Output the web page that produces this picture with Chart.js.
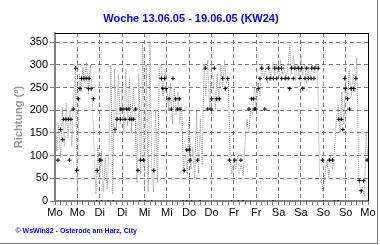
<!DOCTYPE html>
<html><head><meta charset="utf-8">
<script src="https://cdn.jsdelivr.net/npm/chart.js@4/dist/chart.umd.min.js"></script>
<style>html,body{margin:0;padding:0;background:#fff;overflow:hidden}canvas{display:block}</style>
</head><body>
<canvas id="c" width="380" height="245"></canvas>
<script>
const titleText = 'Woche 13.06.05 - 19.06.05 (KW24)';
const yAxisTitle = 'Richtung (°)';
const footerText = '© WsWin32 - Osterode am Harz, City';
const xTickLabels = ['Mo','Mo','Di','Di','Mi','Mi','Do','Do','Fr','Fr','Sa','Sa','So','So','Mo'];

// raw wind direction, one value per hour (hour 0 = Mo 13.06.05 00:00)
const directionRaw = [
 200,110,170,95,205,120,215,140,200,120,230,290,20,280,240,295,260,305,235,300,
 230,110,15,120,55,110,20,95,25,120,300,15,290,160,280,170,250,150,290,165,
 270,150,250,190,40,280,60,345,30,300,20,350,60,20,200,40,290,300,230,290,
 250,200,260,170,250,190,240,170,210,60,100,60,175,70,120,50,200,60,180,80,
 300,230,310,200,300,260,200,280,220,300,250,310,260,270,90,60,95,70,100,60,
 80,55,130,180,150,200,190,250,200,260,230,300,270,290,260,300,265,305,275,300,
 270,310,280,300,265,295,340,280,320,265,300,275,320,275,300,260,295,270,300,280,
 300,285,55,45,20,60,90,50,100,70,110,180,210,150,240,170,270,220,290,230,
 280,240,315,60,15,30,10,150,90
];

// sector direction markers (hour, degrees)
const markerHours = [
 1.6,3.0,4.1,4.65,5.9,7.2,7.7,8.6,9.8,11.1,11.6,12.5,13.4,14.2,15.5,16.8,18.0,18.2,19.4,20.6,22.7,23.9,24.6,
 32.2,33.3,35.1,35.3,36.5,37.6,38.3,39.7,40.1,41.2,42.2,43.3,44.5,45.8,47.5,53.0,
 57.1,57.9,58.9,59.6,61.2,62.4,63.3,64.8,65.7,66.7,67.1,69.4,70.7,72.1,72.5,76.6,
 80.7,82.0,83.8,84.1,85.5,86.8,88.2,90.0,91.4,92.7,93.6,96.5,99.8,
 104.1,105.5,106.6,107.0,107.7,109.1,110.0,111.0,112.6,113.6,114.5,115.4,117.2,118.0,119.0,119.9,121.6,121.7,123.5,125.2,126.0,
 127.0,127.9,128.8,130.6,131.5,132.4,133.0,134.2,135.1,136.0,137.5,137.8,139.0,139.5,141.3,
 143.6,147.2,149.0,152.3,153.7,154.5,155.5,155.8,157.0,158.0,159.0,160.3,161.5,163.3,164.4,165.6,167.5
];
const markerDirs = [
 90,157.5,135,180,180,180,90,180,202.5,292.5,67.5,225,247.5,270,270,270,247.5,270,247.5,225,67.5,90,90,
 157.5,180,180,202.5,202.5,180,202.5,202.5,180,180,180,202.5,67.5,90,90,67.5,
 270,247.5,270,247.5,225,202.5,270,225,202.5,225,202.5,67.5,112.5,112.5,90,90,
 292.5,202.5,202.5,225,292.5,225,225,270,247.5,270,90,90,90,
 202.5,225,225,202.5,202.5,247.5,270,292.5,202.5,270,292.5,270,270,292.5,270,292.5,292.5,270,270,270,247.5,
 292.5,270,292.5,292.5,270,292.5,247.5,270,292.5,270,270,292.5,270,292.5,292.5,
 90,90,90,180,180,157.5,270,247.5,225,202.5,247.5,247.5,270,45,22.5,45,90
];
// calm readings (0°)
const calmHours = [22.4,25,28.6,31.3,45.6,48.3,51.9,68.7,70.7,73.4,78,94.8,98.4,101,117,144,150,152];

const FONT = "'Liberation Sans', Arial, sans-serif";

const framePlugin = {
  id: 'frame',
  afterDraw(chart) {
    const {ctx, chartArea: a} = chart;
    ctx.save();
    ctx.strokeStyle = '#000';
    ctx.lineWidth = 1;
    ctx.beginPath();
    ctx.moveTo(a.left, a.top + 0.5); ctx.lineTo(a.right + 0.5, a.top + 0.5);
    ctx.lineTo(a.right + 0.5, a.bottom);
    ctx.stroke();
    ctx.strokeStyle = '#808080';
    ctx.beginPath();
    ctx.moveTo(0, 243.5); ctx.lineTo(378, 243.5);
    ctx.moveTo(377.5, 0); ctx.lineTo(377.5, 244);
    ctx.stroke();
    ctx.fillStyle = '#0000ff';
    ctx.font = 'bold 11px ' + FONT;
    ctx.textAlign = 'center';
    ctx.textBaseline = 'alphabetic';
    ctx.fillText(titleText, 191, 21.5);
    ctx.font = 'bold 7px ' + FONT;
    ctx.textAlign = 'left';
    ctx.fillText(footerText, 15.5, 232.5);
    ctx.restore();
  }
};

new Chart(document.getElementById('c'), {
  type: 'line',
  data: {
    datasets: [
      {
        label: 'Sektor',
        data: markerHours.map((h, i) => ({x: h, y: markerDirs[i]})),
        showLine: false,
        pointStyle: 'cross',
        pointRadius: 2,
        pointBorderWidth: 1,
        borderColor: '#000',
        backgroundColor: '#000',
        order: 0
      },
      {
        label: 'Calm',
        data: calmHours.map(h => ({x: h, y: 0})),
        showLine: false,
        pointStyle: 'rect',
        pointRadius: 1,
        pointBorderWidth: 0,
        borderColor: '#000',
        backgroundColor: '#000',
        order: 0
      },
      {
        label: 'Richtung',
        data: directionRaw.map((v, i) => ({x: i, y: v})),
        borderColor: '#999999',
        borderWidth: 1,
        borderDash: [1, 1],
        pointRadius: 0,
        tension: 0,
        order: 1
      }
    ]
  },
  options: {
    responsive: false,
    animation: false,
    events: [],
    layout: {padding: {top: 33, right: 12, bottom: 0, left: 0}},
    plugins: {legend: {display: false}, tooltip: {enabled: false}, title: {display: false}},
    scales: {
      x: {
        type: 'linear', min: 0, max: 168,
        afterFit(s) { s.height = 44; },
        ticks: {
          stepSize: 3, autoSkip: false, maxRotation: 0, minRotation: 0, includeBounds: false,
          callback: (v) => (v % 12 === 0 ? xTickLabels[v / 12] : ''),
          color: '#000', font: {family: FONT, size: 11}, padding: 1
        },
        grid: {
          color: (c) => (c.tick && c.tick.value % 12 === 0 ? '#808080' : 'rgba(0,0,0,0)'),
          tickColor: '#808080', tickLength: 4, lineWidth: 1
        },
        border: {color: '#808080', width: 2, dash: [4, 3]}
      },
      y: {
        min: 0, max: 370,
        afterFit(s) { s.width = 55; },
        ticks: {stepSize: 50, includeBounds: false, color: '#000', font: {family: FONT, size: 11}, padding: 2},
        grid: {color: '#808080', tickColor: '#808080', tickLength: 5, lineWidth: 1},
        border: {color: '#808080', width: 2, dash: [4, 3]},
        title: {display: true, text: yAxisTitle, color: '#999999', font: {family: FONT, size: 11, weight: 'bold'}, padding: {top: 12, bottom: 0}}
      }
    }
  },
  plugins: [framePlugin]
});
</script>
</body></html>
